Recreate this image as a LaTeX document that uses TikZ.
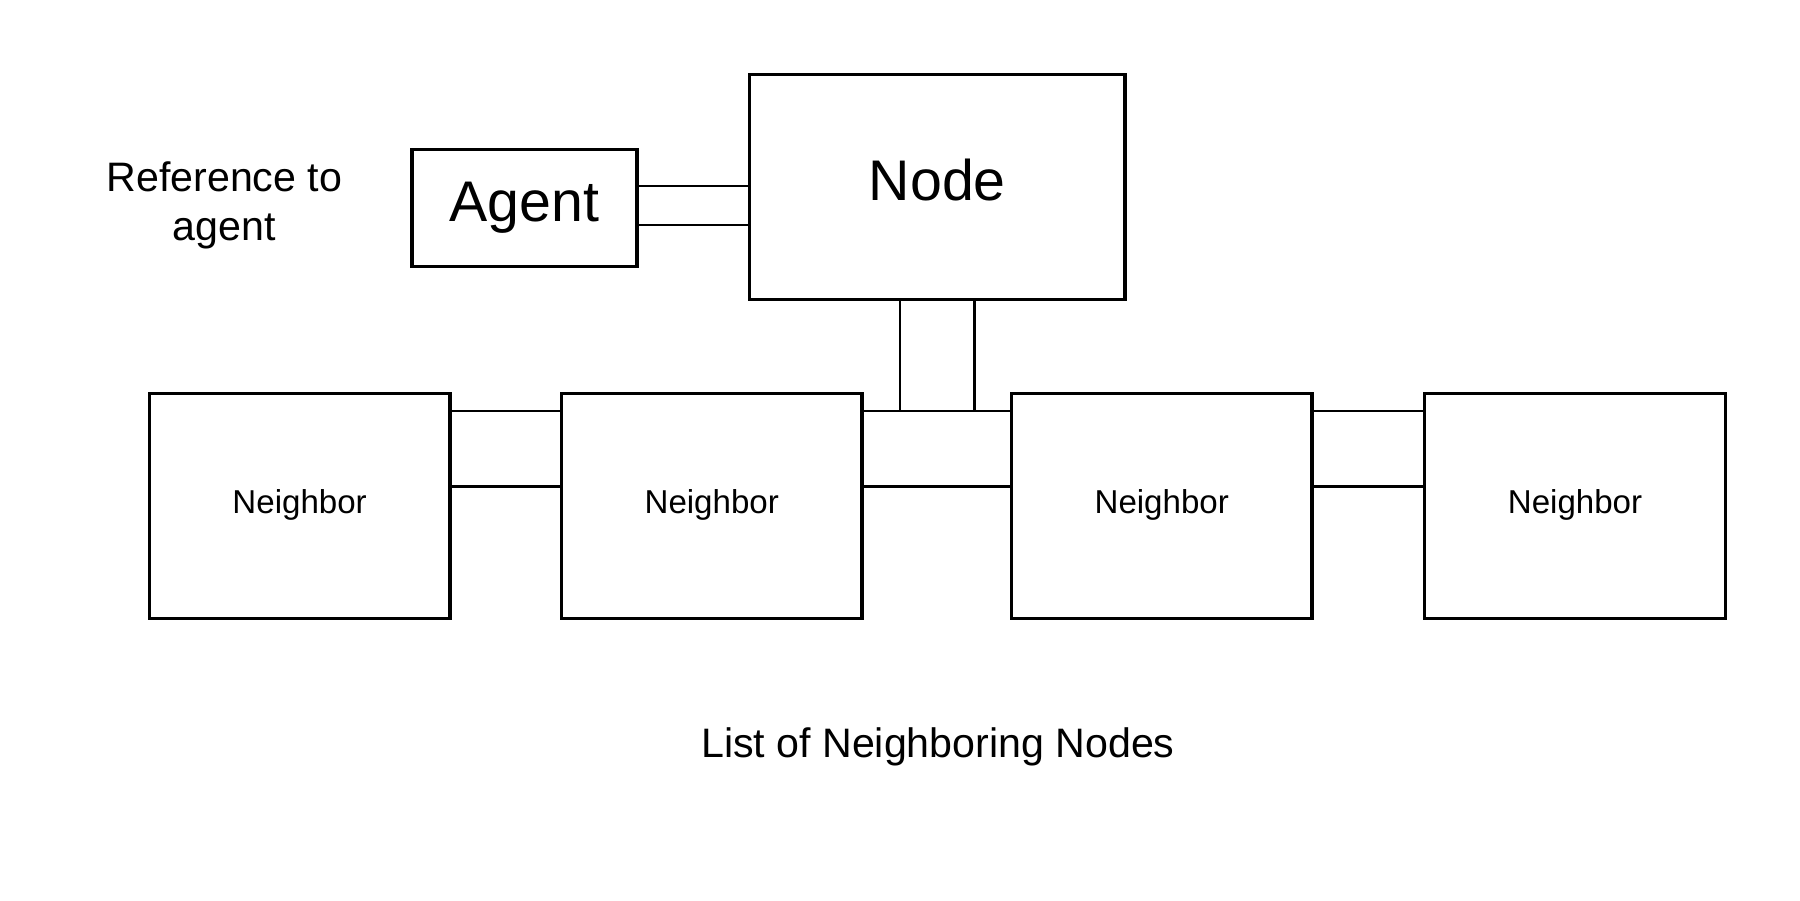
\documentclass[tikz,border=0pt]{standalone}
\usepackage{fontspec}
\setmainfont{Liberation Sans}
\usetikzlibrary{positioning}
\begin{document}
\begin{tikzpicture}[
        bigbox/.style={draw, line width=0.85pt, inner sep=0pt, font=\fontsize{14.2}{17}\selectfont},
        nbbox/.style={draw, line width=0.85pt, inner sep=0pt, minimum width=2.62cm, minimum height=1.96cm,
            text height=0.206cm, text depth=0.08cm, font=\fontsize{8.2}{10}\selectfont},
        link/.style={line width=0.7pt},
        caption/.style={align=center, font=\fontsize{10.2}{12}\selectfont}]
    \useasboundingbox (0,-0.04) rectangle (15.68,7.8);
    \node[bigbox, minimum width=3.27cm, minimum height=1.96cm, text height=0.36cm, text depth=0.12cm] (node) at (8.165,6.17) {Node};
    \node[bigbox, minimum width=1.96cm, minimum height=1.02cm] (agent) at (4.57,5.99) {Agent};
    \node[caption, left=0.47cm of agent, yshift=0.02cm] (ref) {Reference to\\agent};
    \foreach \x [count=\i] in {2.61,6.20,10.12,13.72}
        \node[nbbox] (nb\i) at (\x,3.39) {Neighbor};
    \node[caption] (list) at (8.17,1.29) {List of Neighboring Nodes};
    % agent -- node
    \draw[link] ([yshift=0.19cm]agent.east) -- ([yshift=0.19cm]agent.east -| node.west);
    \draw[link] ([yshift=-0.15cm]agent.east) -- ([yshift=-0.15cm]agent.east -| node.west);
    % neighbor chain
    \foreach \a/\b in {1/2,2/3,3/4}
        {
            \draw[link] ([yshift=0.83cm]nb\a.east) -- ([yshift=0.83cm]nb\a.east -| nb\b.west);
            \draw[link] ([yshift=0.17cm]nb\a.east) -- ([yshift=0.17cm]nb\a.east -| nb\b.west);
        }
    % node -- list
    \draw[link] ([xshift=-0.325cm]node.south) -- ([xshift=-0.325cm,yshift=0.83cm]node.south |- nb2.east);
    \draw[link] ([xshift=0.325cm]node.south) -- ([xshift=0.325cm,yshift=0.83cm]node.south |- nb2.east);
\end{tikzpicture}
\end{document}
